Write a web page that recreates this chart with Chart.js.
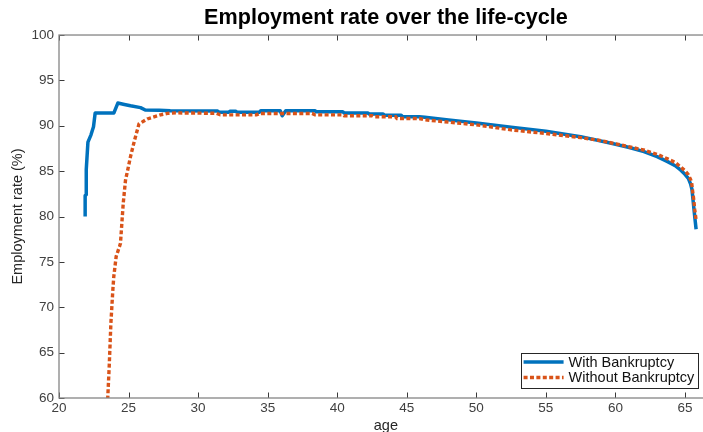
<!DOCTYPE html>
<html>
<head>
<meta charset="utf-8">
<title>Employment rate over the life-cycle</title>
<script src="https://cdn.jsdelivr.net/npm/chart.js@4/dist/chart.umd.min.js"></script>
<style>
  html, body { margin: 0; padding: 0; background: #ffffff; overflow: hidden; }
  #wrap { width: 728px; height: 432px; }
</style>
</head>
<body>
<div id="wrap"><canvas id="chart" width="728" height="432"></canvas></div>
<script>
// Employment rate (%) by age, with a bankruptcy option
const withAges = [
  21.88, 21.88, 21.96, 21.96, 22.08, 22.3, 22.48, 22.6, 23.94, 24.23,
  24.7, 25.14, 25.86, 26.2, 27.2, 28.0, 31.4, 31.5, 32.2, 32.3,
  32.7, 32.8, 34.4, 34.5, 35.9, 36.05, 36.3, 38.4, 38.5, 40.4,
  40.5, 42.2, 42.3, 43.3, 43.4, 44.6, 44.7, 45.9, 46.3, 48.0,
  50.0, 52.5, 55.0, 57.5, 59.7, 61.0, 62.05, 63.0, 63.75, 64.3,
  64.7, 65.0, 65.24, 65.4, 65.5, 65.6, 65.7, 65.8
];
const withRates = [
  80.0, 82.3, 82.4, 85.2, 88.2, 89.0, 89.9, 91.4, 91.4, 92.5,
  92.35, 92.2, 92.0, 91.74, 91.7, 91.65, 91.63, 91.5, 91.5, 91.6,
  91.6, 91.5, 91.5, 91.65, 91.65, 91.1, 91.65, 91.65, 91.55, 91.55,
  91.4, 91.4, 91.3, 91.3, 91.15, 91.15, 91.0, 91.0, 90.94, 90.65,
  90.3, 89.85, 89.4, 88.8, 88.07, 87.6, 87.15, 86.6, 86.05, 85.6,
  85.1, 84.65, 84.2, 83.6, 83.0, 81.5, 80.0, 78.6
];

// Employment rate (%) by age, without a bankruptcy option
const withoutAges = [
  23.42, 23.51, 23.61, 23.73, 23.87, 23.94, 24.11, 24.35, 24.42, 24.52,
  24.62, 24.78, 24.95, 25.14, 25.43, 25.75, 26.35, 27.3, 27.8, 28.4,
  31.3, 31.6, 34.2, 34.4, 38.2, 38.4, 40.4, 40.5, 42.5, 42.6,
  44.2, 44.3, 45.9, 46.3, 48.0, 50.0, 52.5, 55.0, 57.5, 59.0,
  60.5, 62.1, 63.0, 63.75, 64.3, 64.7, 65.0, 65.24, 65.4, 65.48,
  65.55, 65.62, 65.7, 65.8
];
const withoutRates = [
  57.0, 60.2, 63.5, 68.25, 71.9, 73.4, 75.6, 76.7, 77.06, 79.3,
  81.5, 84.0, 85.2, 86.6, 88.4, 90.2, 90.75, 91.2, 91.37, 91.42,
  91.37, 91.2, 91.2, 91.35, 91.35, 91.2, 91.2, 91.1, 91.1, 91.0,
  91.0, 90.8, 90.8, 90.65, 90.4, 90.1, 89.55, 89.15, 88.7, 88.35,
  87.85, 87.3, 86.85, 86.35, 85.95, 85.45, 85.05, 84.6, 84.1, 83.7,
  82.8, 82.0, 80.8, 79.6
];

const seriesNames = ['With Bankruptcy', 'Without Bankruptcy'];
const seriesColors = ['#0072BD', '#D95319'];
const ageTicks = [20, 25, 30, 35, 40, 45, 50, 55, 60, 65];
const rateTicks = [60, 65, 70, 75, 80, 85, 90, 95, 100];

const FONT = '"Liberation Sans", Arial, Helvetica, sans-serif';
const toPoints = (xs, ys) => xs.map((x, i) => ({ x: x, y: ys[i] }));

// Axes box with inward tick marks (bottom, top, left, right)
const axesBox = {
  id: 'axesBox',
  afterDatasetsDraw(chart) {
    const { ctx, chartArea: a, scales: { x, y } } = chart;
    const tl = 5.5;
    ctx.save();
    ctx.strokeStyle = '#3a3a3a';
    ctx.lineWidth = 1;
    ctx.beginPath();
    ageTicks.forEach(v => {
      const px = Math.round(x.getPixelForValue(v)) + 0.5;
      ctx.moveTo(px, a.bottom); ctx.lineTo(px, a.bottom - tl);
      ctx.moveTo(px, a.top); ctx.lineTo(px, a.top + tl);
    });
    rateTicks.forEach(v => {
      const py = Math.round(y.getPixelForValue(v)) + 0.5;
      ctx.moveTo(a.left, py); ctx.lineTo(a.left + tl, py);
      ctx.moveTo(a.right, py); ctx.lineTo(a.right - tl, py);
    });
    ctx.stroke();
    ctx.strokeStyle = '#858585';
    ctx.lineWidth = 1.3;
    ctx.strokeRect(a.left, a.top, a.right - a.left, a.bottom - a.top);
    ctx.restore();
  }
};

// Boxed legend in the lower right corner of the plot area
const cornerLegend = {
  id: 'cornerLegend',
  afterDraw(chart) {
    const { ctx, chartArea: a } = chart;
    ctx.save();
    ctx.font = '14.5px ' + FONT;
    const textW = Math.max(...seriesNames.map(n => ctx.measureText(n).width));
    const sampleL = 3, sampleLen = 40, gap = 5;
    const w = sampleL + sampleLen + gap + textW + 3;
    const h = 35;
    const right = a.right - 15.5, bottom = a.bottom - 10.5;
    const left = right - w, top = bottom - h;
    ctx.fillStyle = '#ffffff';
    ctx.fillRect(left, top, w, h);
    ctx.strokeStyle = '#262626';
    ctx.lineWidth = 1;
    ctx.strokeRect(Math.round(left) + 0.5, Math.round(top) + 0.5, Math.round(w), Math.round(h));
    const rows = [top + 9.5, top + 25];
    seriesNames.forEach((name, i) => {
      ctx.beginPath();
      ctx.strokeStyle = seriesColors[i];
      ctx.lineWidth = 3.4;
      ctx.lineCap = 'butt';
      ctx.setLineDash(i === 0 ? [] : [4, 2.4]);
      ctx.moveTo(left + sampleL, rows[i]);
      ctx.lineTo(left + sampleL + sampleLen, rows[i]);
      ctx.stroke();
      ctx.setLineDash([]);
      ctx.fillStyle = '#111111';
      ctx.textBaseline = 'middle';
      ctx.textAlign = 'left';
      ctx.fillText(name, left + sampleL + sampleLen + gap, rows[i] + 0.5);
    });
    ctx.restore();
  }
};

new Chart(document.getElementById('chart'), {
  type: 'line',
  data: {
    datasets: [
      {
        label: seriesNames[0],
        data: toPoints(withAges, withRates),
        borderColor: seriesColors[0],
        borderWidth: 3.5,
        borderJoinStyle: 'round',
        pointRadius: 0,
        tension: 0,
        order: 2
      },
      {
        label: seriesNames[1],
        data: toPoints(withoutAges, withoutRates),
        borderColor: seriesColors[1],
        borderWidth: 3.4,
        borderDash: [4, 2.4],
        borderCapStyle: 'butt',
        pointRadius: 0,
        tension: 0,
        order: 1
      }
    ]
  },
  options: {
    responsive: false,
    animation: false,
    devicePixelRatio: 1,
    layout: { padding: { left: 0, right: 15.2, top: 0, bottom: 0 } },
    plugins: {
      legend: { display: false },
      tooltip: { enabled: false },
      title: {
        display: true,
        fullSize: false,
        text: 'Employment rate over the life-cycle',
        color: '#000000',
        font: { family: FONT, size: 21.6, weight: 'bold', lineHeight: 1.2 },
        padding: { top: 5.5, bottom: 3.6 }
      }
    },
    scales: {
      x: {
        type: 'linear',
        min: 20,
        max: 67,
        afterBuildTicks: s => { s.ticks = ageTicks.map(v => ({ value: v })); },
        afterFit: s => { s.height = 34; },
        grid: { display: false, drawTicks: false },
        border: { display: false },
        ticks: {
          color: '#404040',
          font: { family: FONT, size: 13.5 },
          padding: 2.5,
          maxRotation: 0,
          autoSkip: false
        },
        title: {
          display: true,
          text: 'age',
          color: '#262626',
          font: { family: FONT, size: 14.5 },
          padding: { top: 0, bottom: -2.5 }
        }
      },
      y: {
        type: 'linear',
        min: 60,
        max: 100,
        afterBuildTicks: s => { s.ticks = rateTicks.map(v => ({ value: v })); },
        afterFit: s => { s.width = 59; },
        grid: { display: false, drawTicks: false },
        border: { display: false },
        ticks: {
          color: '#404040',
          font: { family: FONT, size: 13.5 },
          padding: 5,
          autoSkip: false
        },
        title: {
          display: true,
          text: 'Employment rate (%)',
          color: '#262626',
          font: { family: FONT, size: 14.5 },
          padding: { top: 9.5, bottom: 0 }
        }
      }
    }
  },
  plugins: [axesBox, cornerLegend]
});
</script>
</body>
</html>
